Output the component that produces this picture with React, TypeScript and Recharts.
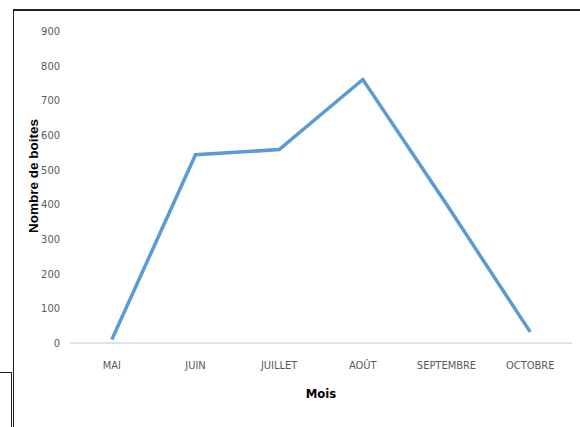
import { Label, Line, LineChart, XAxis, YAxis } from 'recharts';

const months = ['MAI', 'JUIN', 'JUILLET', 'AOÛT', 'SEPTEMBRE', 'OCTOBRE'];
const boxes = [10, 543, 558, 760, 400, 32];
const yTicks = [0, 100, 200, 300, 400, 500, 600, 700, 800, 900];

const data = months.map((m, i) => ({ mois: m, boites: boxes[i] }));

const tickFont = "'Liberation Sans Narrow', 'DejaVu Sans Condensed', sans-serif";

function App() {
  return (
    <div style={{ position: 'absolute', left: 0, top: 0, width: 580, height: 427, background: '#fff' }}>
      {/* stray frame lines from the source document */}
      <div style={{ position: 'absolute', left: 13, top: 9, width: 567, height: 2, background: '#222' }} />
      <div style={{ position: 'absolute', left: 13, top: 9, width: 1, height: 418, background: '#222' }} />
      <div style={{ position: 'absolute', left: 0, top: 372, width: 12, height: 1, background: '#222' }} />
      <div style={{ position: 'absolute', left: 11, top: 372, width: 1, height: 55, background: '#222' }} />
      <LineChart
        width={580}
        height={427}
        data={data}
        margin={{ top: 31, right: 8, bottom: 24, left: 0 }}
        style={{ position: 'absolute', left: 0, top: 0 }}
      >
        <XAxis
          dataKey="mois"
          scale="band"
          height={60}
          axisLine={{ stroke: '#d9d9d9', strokeWidth: 1.5 }}
          tickLine={false}
          tickMargin={12}
          tick={{ fill: '#595959', fontSize: 11, fontFamily: tickFont }}
        >
          <Label
            content={({ viewBox }: any) => (
              <text
                x={viewBox.x + viewBox.width / 2}
                y={398}
                textAnchor="middle"
                fontFamily={tickFont}
                fontWeight="bold"
                fontSize={13}
                fill="#000"
              >
                Mois
              </text>
            )}
          />
        </XAxis>
        <YAxis
          width={70}
          domain={[0, 900]}
          ticks={yTicks}
          axisLine={false}
          tickLine={false}
          tickMargin={4}
          tick={{ fill: '#595959', fontSize: 11, fontFamily: tickFont }}
        >
          <Label
            content={() => (
              <text
                x={34}
                y={176}
                transform="rotate(-90 34 176)"
                textAnchor="middle"
                dominantBaseline="middle"
                fontFamily="'Liberation Sans', Arial, sans-serif"
                fontWeight="bold"
                fontSize={13.5}
                fill="#000"
              >
                Nombre de boites
              </text>
            )}
          />
        </YAxis>
        <Line
          type="linear"
          dataKey="boites"
          stroke="#5b9bd5"
          strokeWidth={3.5}
          dot={false}
          isAnimationActive={false}
        />
      </LineChart>
    </div>
  );
}

export default App;
